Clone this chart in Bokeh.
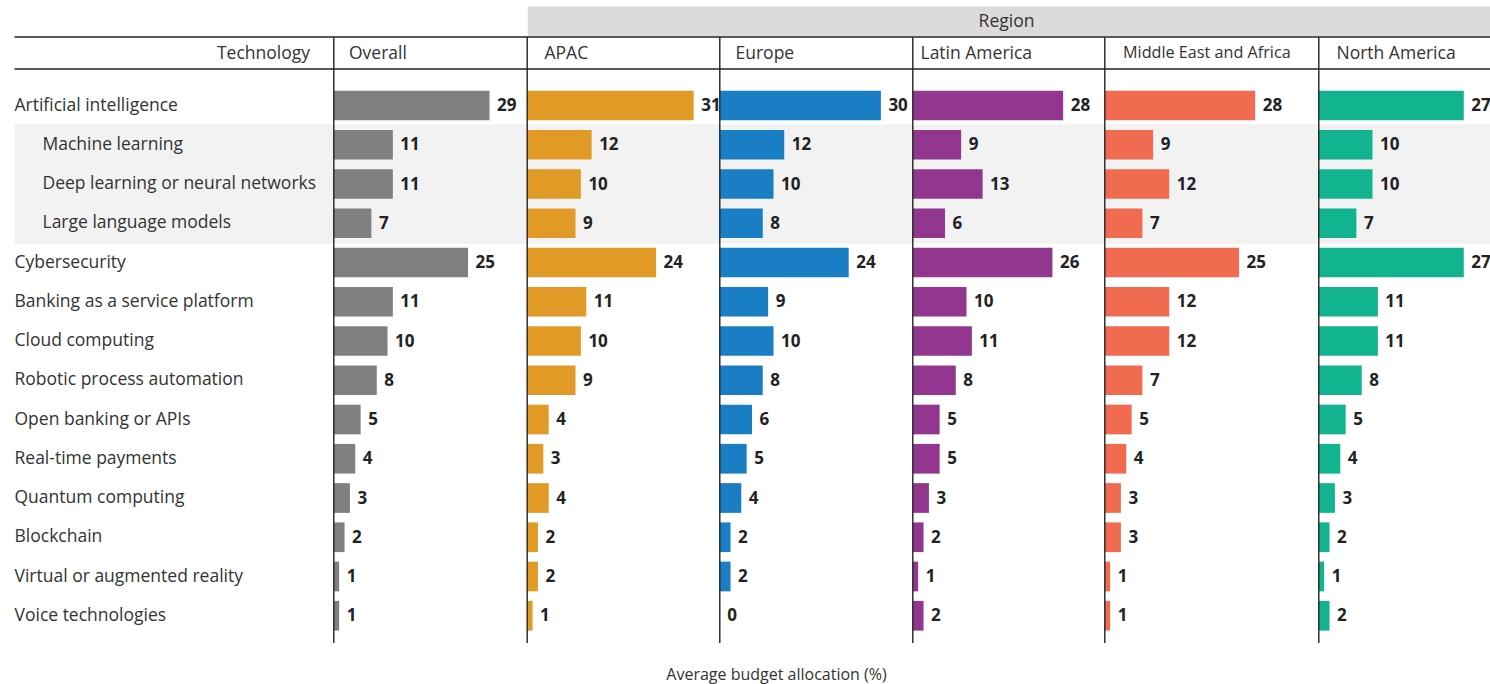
from bokeh.plotting import figure
from bokeh.models import Range1d, ColumnDataSource
from bokeh.core.properties import value
from bokeh.embed import file_html
from bokeh.resources import INLINE

# ---------------- data ----------------
technologies = [
    "Artificial intelligence", "Machine learning", "Deep learning or neural networks",
    "Large language models", "Cybersecurity", "Banking as a service platform",
    "Cloud computing", "Robotic process automation", "Open banking or APIs",
    "Real-time payments", "Quantum computing", "Blockchain",
    "Virtual or augmented reality", "Voice technologies",
]
sub_items = ["Machine learning", "Deep learning or neural networks", "Large language models"]

panels = ["Overall", "APAC", "Europe", "Latin America", "Middle East and Africa", "North America"]
overall = [29, 11, 11, 7, 25, 11, 10, 8, 5, 4, 3, 2, 1, 1]
apac = [31, 12, 10, 9, 24, 11, 10, 9, 4, 3, 4, 2, 2, 1]
europe = [30, 12, 10, 8, 24, 9, 10, 8, 6, 5, 4, 2, 2, 0]
latin_america = [28, 9, 13, 6, 26, 10, 11, 8, 5, 5, 3, 2, 1, 2]
middle_east_africa = [28, 9, 12, 7, 25, 12, 12, 7, 5, 4, 3, 3, 1, 1]
north_america = [27, 10, 10, 7, 27, 11, 11, 8, 5, 4, 3, 2, 1, 2]
series = [overall, apac, europe, latin_america, middle_east_africa, north_america]

colors = ["#808080", "#e19a26", "#1a7ec4", "#93368f", "#f16b51", "#12b38f"]

group_label = "Region"
row_header = "Technology"
axis_title = "Average budget allocation (%)"

# ---------------- layout helpers (pixel -> data units) ----------------
PX = 5.37          # pixels per percentage point
AX0 = 333.3        # x of Overall axis
ROW0, ROWH = 105.0, 39.25
W, H = 1490, 684


def U(rx):
    return (rx - AX0) / PX


def V(ry):
    return (ry - ROW0) / ROWH


axis_px = [333.3, 526.7, 719.3, 912.3, 1104.3, 1318.3]
header_px = [348.5, 544.0, 735.0, 920.0, 1122.5, 1336.0]
header_size = ["17.5px", "17.5px", "17.5px", "17.5px", "16.2px", "17.5px"]
offsets = [U(a) for a in axis_px]

FONT = value("Open Sans")
TXT = "#333333"

p = figure(width=W, height=H,
           x_range=Range1d(U(0), U(W)),
           y_range=Range1d(V(H), V(0)),
           output_backend="svg", toolbar_location=None, min_border=0)
p.axis.visible = False
p.grid.visible = False
p.outline_line_color = None
p.background_fill_color = "white"
p.border_fill_color = "white"

left_edge, right_edge = U(14), U(W + 5)

# region band
p.quad(left=[U(527.3)], right=[right_edge], top=[V(6)], bottom=[V(35.5)],
       fill_color="#dcdbd9", line_color=None)
p.text(x=[U(1006)], y=[V(19.5)], text=[group_label], text_font=FONT,
       text_font_size="17.5px", text_color=TXT, text_align="center",
       text_baseline="middle")

# light band behind the AI sub-items
sub_idx = [technologies.index(s) for s in sub_items]
p.quad(left=[left_edge], right=[right_edge],
       top=[min(sub_idx) - 0.5 - 0.02], bottom=[max(sub_idx) + 0.5 + 0.02],
       fill_color="#f2f2f2", line_color=None)

# header lines
for ry in (36.5, 68.5):
    p.segment(x0=[left_edge], x1=[right_edge], y0=[V(ry)], y1=[V(ry)],
              line_color="#222222", line_width=1.6)

# headers
p.text(x=[U(309.5)], y=[V(51.5)], text=[row_header], text_font=FONT,
       text_font_size="17.5px", text_color=TXT, text_align="right",
       text_baseline="middle")
for name, hx, hs in zip(panels, header_px, header_size):
    p.text(x=[U(hx)], y=[V(51.5)], text=[name], text_font=FONT,
           text_font_size=hs, text_color=TXT, text_align="left",
           text_baseline="middle")

# row labels
rows = list(range(len(technologies)))
label_x = [U(42) if t in sub_items else U(14) for t in technologies]
p.text(x=label_x, y=rows, text=technologies, text_font=FONT,
       text_font_size="17.5px", text_color=TXT, text_align="left",
       text_baseline="middle", y_offset=-1.8)

# bars
GAP = 7.5 / PX
for off, vals, col in zip(offsets, series, colors):
    src = ColumnDataSource(dict(
        y=rows,
        left=[off] * len(vals),
        right=[off + v for v in vals],
        lx=[off + v + GAP for v in vals],
        lab=[str(round(v)) for v in vals],
    ))
    p.hbar(y="y", left="left", right="right", height=0.757, source=src,
           fill_color=col, line_color=None)
    p.text(x="lx", y="y", text="lab", source=src, text_font=FONT,
           text_font_size="17px", text_font_style="bold", text_color="#222222",
           text_align="left", text_baseline="middle", y_offset=-1)

# panel axis lines
p.segment(x0=offsets, x1=offsets, y0=[V(36.5)] * len(offsets),
          y1=[V(642.5)] * len(offsets), line_color="#222222", line_width=1.4)

# axis title
p.text(x=[U(776)], y=[V(673)], text=[axis_title], text_font=FONT,
       text_font_size="16px", text_color=TXT, text_align="center",
       text_baseline="middle")

open("out.html", "w").write(file_html(p, INLINE))
